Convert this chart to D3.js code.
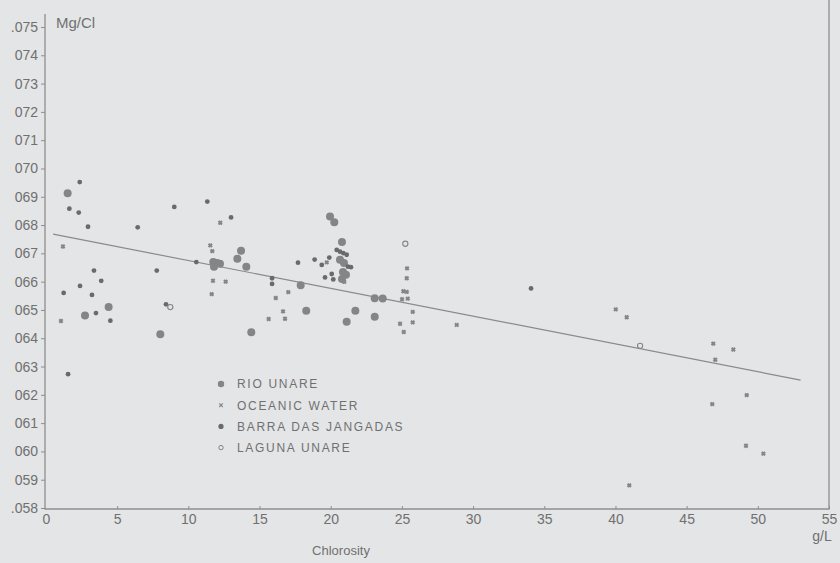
<!DOCTYPE html>
<html>
<head>
<meta charset="utf-8">
<script src="https://cdn.jsdelivr.net/npm/d3@7"></script>
<style>
    body { margin: 0; background: #e4e5e7; }
    svg { display: block; }
    text { font-family: 'Liberation Sans', Arial, sans-serif; fill: #707070; }
</style>
</head>
<body>
<script>
// x tick values (g/L) and y tick labels
const xTicks = [0, 5, 10, 15, 20, 25, 30, 35, 40, 45, 50, 55];
const yTicks = [0.058, 0.059, 0.060, 0.061, 0.062, 0.063, 0.064, 0.065, 0.066, 0.067, 0.068, 0.069, 0.070, 0.071, 0.072, 0.073, 0.074, 0.075];
const yTickLabels = ['.058', '059', '060', '061', '062', '063', '064', '065', '066', '067', '068', '069', '070', '071', '072', '073', '074', '.075'];

const legendLabels = ['RIO UNARE', 'OCEANIC WATER', 'BARRA DAS JANGADAS', 'LAGUNA UNARE'];

// Rio Unare samples: [chlorosity, Mg/Cl]
const rioUnare = [
    [1.52, 0.06912], [4.40, 0.06510], [2.74, 0.06480], [8.03, 0.06414],
    [13.70, 0.06709], [13.44, 0.06681], [14.07, 0.06653], [11.75, 0.06669],
    [12.01, 0.06666], [12.22, 0.06663], [11.80, 0.06653], [17.89, 0.06587],
    [18.28, 0.06497], [14.42, 0.06421], [19.95, 0.06830], [20.25, 0.06810],
    [20.79, 0.06740], [21.73, 0.06497], [21.12, 0.06458], [23.09, 0.06541],
    [23.65, 0.06540], [23.09, 0.06476], [20.65, 0.06677], [20.93, 0.06666],
    [20.86, 0.06634], [21.07, 0.06624], [20.79, 0.06609]
];

// Oceanic water samples
const oceanicWater = [
    [1.19, 0.06724], [1.05, 0.06461], [11.54, 0.06728], [11.68, 0.06708],
    [12.24, 0.06808], [11.73, 0.06603], [12.62, 0.06600], [11.64, 0.06556],
    [17.02, 0.06563], [16.14, 0.06542], [16.65, 0.06495], [16.79, 0.06469],
    [15.64, 0.06468], [19.72, 0.06668], [20.95, 0.06599], [25.36, 0.06647],
    [25.34, 0.06612], [25.10, 0.06566], [25.34, 0.06564], [25.01, 0.06538],
    [25.41, 0.06540], [25.76, 0.06493], [24.87, 0.06451], [25.76, 0.06456],
    [25.13, 0.06422], [28.85, 0.06447], [40.02, 0.06502], [40.79, 0.06474],
    [46.87, 0.06381], [47.01, 0.06324], [48.28, 0.06360], [49.22, 0.06199],
    [46.80, 0.06167], [49.17, 0.06020], [50.39, 0.05992], [40.97, 0.05880]
];

// Barra das Jangadas samples
const barraJangadas = [
    [2.37, 0.06952], [1.64, 0.06858], [2.30, 0.06844], [2.95, 0.06794],
    [6.44, 0.06792], [9.01, 0.06864], [3.37, 0.06639], [3.88, 0.06603],
    [7.78, 0.06639], [2.39, 0.06585], [1.24, 0.06560], [3.23, 0.06553],
    [3.51, 0.06489], [4.52, 0.06462], [8.43, 0.06520], [1.55, 0.06273],
    [11.33, 0.06883], [13.00, 0.06827], [10.56, 0.06669], [17.70, 0.06667],
    [15.88, 0.06612], [15.88, 0.06592], [18.87, 0.06678], [19.37, 0.06659],
    [19.90, 0.06685], [19.60, 0.06615], [20.07, 0.06627], [20.18, 0.06608],
    [20.42, 0.06712], [20.65, 0.06706], [20.88, 0.06701], [21.12, 0.06695],
    [21.21, 0.06653], [21.42, 0.06651], [34.07, 0.06576]
];

// Laguna Unare samples
const lagunaUnare = [[8.73, 0.06510], [25.24, 0.06734], [41.73, 0.06373]];

// regression line end points
const fitX = [0.5, 53.0];
const fitY = [0.06768, 0.06252];

drawScatter();

function drawScatter()
{
    const width = 840;
    const height = 563;

    const svg = d3.select('body')
        .append('svg')
        .attr('width', width)
        .attr('height', height);

    const x = d3.scaleLinear().domain([0, 55]).range([46, 829]);
    const y = d3.scaleLinear().domain([0.058, 0.075]).range([508, 27]);

    const axisColor = '#8e8e8e';
    const markColor = '#858585';

    // frame: left axis, bottom axis, right border
    svg.append('path')
        .attr('d', `M45,14 V509 H829 V0`)
        .attr('fill', 'none')
        .attr('stroke', axisColor)
        .attr('stroke-width', 1.3);

    // y-axis ticks and labels
    const yAxis = d3.axisLeft(y)
        .tickValues(yTicks)
        .tickSize(4)
        .tickPadding(3)
        .tickFormat((d, i) => yTickLabels[i]);

    const gy = svg.append('g')
        .attr('transform', 'translate(45,0)')
        .call(yAxis);
    gy.select('.domain').remove();
    gy.selectAll('.tick line').attr('stroke', axisColor);
    gy.selectAll('.tick text')
        .attr('font-size', 14)
        .attr('fill', '#6e6e6e');

    // x-axis ticks and labels
    const xAxis = d3.axisBottom(x)
        .tickValues(xTicks)
        .tickSize(-3)
        .tickPadding(5)
        .tickFormat(d3.format('d'));

    const gx = svg.append('g')
        .attr('transform', 'translate(0,509)')
        .call(xAxis);
    gx.select('.domain').remove();
    gx.selectAll('.tick line').attr('stroke', axisColor);
    gx.selectAll('.tick text')
        .attr('font-size', 14)
        .attr('fill', '#6e6e6e');
    gx.selectAll('.tick').filter(d => d === 0)
        .select('line').remove();

    // axis titles
    svg.append('text')
        .attr('x', 56)
        .attr('y', 28)
        .attr('font-size', 15)
        .text('Mg/Cl');

    svg.append('text')
        .attr('x', 341)
        .attr('y', 555)
        .attr('text-anchor', 'middle')
        .attr('font-size', 13)
        .text('Chlorosity');

    svg.append('text')
        .attr('x', 822)
        .attr('y', 541)
        .attr('text-anchor', 'middle')
        .attr('font-size', 14)
        .text('g/L');

    // regression line
    const line = d3.line()
        .x(d => x(d[0]))
        .y(d => y(d[1]));

    svg.append('path')
        .datum(d3.zip(fitX, fitY))
        .attr('d', line)
        .attr('fill', 'none')
        .attr('stroke', '#8a8a8a')
        .attr('stroke-width', 1.2);

    // oceanic water: small crosses (blurred to dots in the print)
    const cross = d3.symbol().type(d3.symbolTimes).size(9);
    svg.selectAll('path.oceanic')
        .data(oceanicWater)
        .enter()
        .append('path')
        .attr('class', 'oceanic')
        .attr('d', cross)
        .attr('transform', d => `translate(${x(d[0])},${y(d[1])})`)
        .attr('fill', 'none')
        .attr('stroke', markColor)
        .attr('stroke-width', 2.1);

    // Rio Unare: large grey dots
    svg.selectAll('circle.rio')
        .data(rioUnare)
        .enter()
        .append('circle')
        .attr('class', 'rio')
        .attr('cx', d => x(d[0]))
        .attr('cy', d => y(d[1]))
        .attr('r', 4)
        .attr('fill', markColor);

    // Barra das Jangadas: small dark dots
    svg.selectAll('circle.barra')
        .data(barraJangadas)
        .enter()
        .append('circle')
        .attr('class', 'barra')
        .attr('cx', d => x(d[0]))
        .attr('cy', d => y(d[1]))
        .attr('r', 2.4)
        .attr('fill', '#6a6a6a');

    // Laguna Unare: open circles
    svg.selectAll('circle.laguna')
        .data(lagunaUnare)
        .enter()
        .append('circle')
        .attr('class', 'laguna')
        .attr('cx', d => x(d[0]))
        .attr('cy', d => y(d[1]))
        .attr('r', 2.6)
        .attr('fill', 'none')
        .attr('stroke', markColor)
        .attr('stroke-width', 1.1);

    // legend
    const legend = svg.append('g').attr('transform', 'translate(221,384)');
    const rows = legend.selectAll('g')
        .data(legendLabels)
        .enter()
        .append('g')
        .attr('transform', (d, i) => `translate(0,${i * 21.2})`);

    rows.append('text')
        .attr('x', 16)
        .attr('dy', '0.36em')
        .attr('font-size', 12)
        .attr('letter-spacing', 1.7)
        .text(d => d);

    rows.filter((d, i) => i === 0).append('circle')
        .attr('r', 3.2).attr('fill', markColor);
    rows.filter((d, i) => i === 1).append('path')
        .attr('d', d3.symbol().type(d3.symbolTimes).size(10))
        .attr('stroke', markColor).attr('stroke-width', 1.1).attr('fill', 'none');
    rows.filter((d, i) => i === 2).append('circle')
        .attr('r', 2.6).attr('fill', '#6a6a6a');
    rows.filter((d, i) => i === 3).append('circle')
        .attr('r', 2.2).attr('fill', 'none')
        .attr('stroke', markColor).attr('stroke-width', 1);
}
</script>
</body>
</html>
